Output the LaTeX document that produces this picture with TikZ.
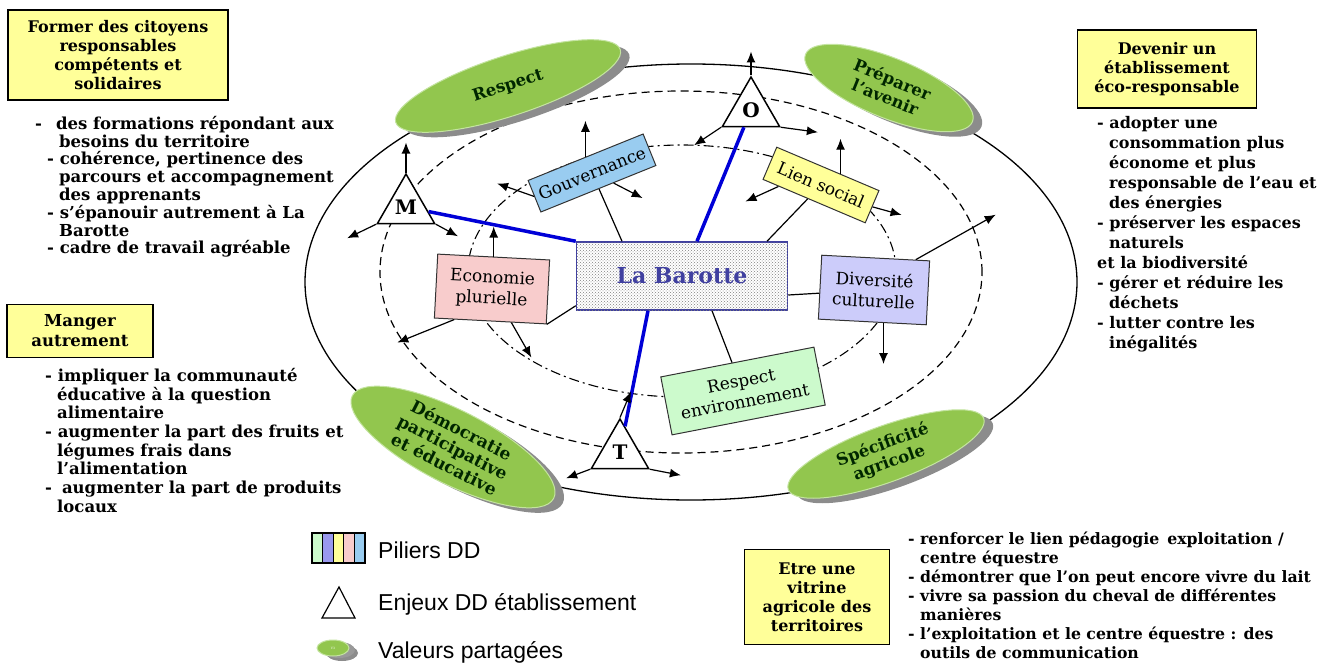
\documentclass[tikz,border=0pt]{standalone}
\usepackage{fontspec}
\setmainfont{DejaVu Serif}
\setsansfont{Liberation Sans}
\usetikzlibrary{shapes.geometric,arrows.meta,patterns,shadows}

\definecolor{vert}{RGB}{146,198,78}
\definecolor{vertbord}{RGB}{196,228,160}
\definecolor{jaune}{RGB}{255,255,153}
\definecolor{bleuciel}{RGB}{153,204,240}
\definecolor{rose}{RGB}{248,204,204}
\definecolor{lavande}{RGB}{204,204,250}
\definecolor{lavandefonce}{RGB}{153,153,238}
\definecolor{vertpale}{RGB}{204,250,204}
\definecolor{bleubar}{RGB}{64,64,160}
\definecolor{bleutrait}{RGB}{0,0,215}

\newcommand{\retrait}{\hspace*{12pt}}
\newcommand{\decal}{\hspace*{12pt}}

\tikzset{
	pilier/.style={draw=black!80,line width=1pt,align=center,inner sep=2pt,font=\fontsize{17}{21}\selectfont},
	valeur/.style={ellipse,fill=vert,draw=vertbord,line width=1pt,inner sep=0pt,align=center,
		text=black!85!green,font=\bfseries\fontsize{16.5}{19}\selectfont,
		drop shadow={shadow xshift=9pt,shadow yshift=-5pt,fill=black!45,opacity=1}},
	enjeu/.style={draw,regular polygon,regular polygon sides=3,minimum size=66pt,inner sep=0pt,
		line width=1.5pt,fill=white,font=\bfseries\fontsize{20}{20}\selectfont},
	titre/.style={draw,fill=jaune,line width=1.2pt,align=center,font=\bfseries\fontsize{16}{19}\selectfont},
	liste/.style={anchor=north west,align=left,inner sep=0pt},
	fleche/.style={-{Latex[length=11pt,width=9pt]},line width=1.2pt},
	lien/.style={line width=1.2pt},
	axe/.style={bleutrait,line width=3.5pt},
	legende/.style={anchor=west,inner sep=0pt,font=\sffamily\fontsize{23}{23}\selectfont}
}

\begin{document}
\begin{tikzpicture}[x=1pt,y=-1pt]
\useasboundingbox (0,0) rectangle (1326,669);

%ellipses
\draw[line width=1.3pt] (691,282) ellipse [x radius=386pt,y radius=218pt];
\draw[line width=1.2pt,dash pattern=on 8pt off 5pt] (681,272) ellipse [x radius=301pt,y radius=181pt];
\draw[line width=1.1pt,dash pattern=on 10pt off 4pt on 2pt off 4pt] (682,271) ellipse [x radius=214pt,y radius=126pt];

%valeurs
\node[valeur,rotate=18,minimum width=236pt,minimum height=60pt] (respect) at (508,86) {Respect};
\node[valeur,rotate=-22,minimum width=180pt,minimum height=60pt] (avenir) at (889,88) {Préparer\\l’avenir};
\node[valeur,rotate=-27,minimum width=226pt,minimum height=70pt,font=\bfseries\fontsize{17}{19}\selectfont] (demo) at (453,447) {Démocratie\\participative\\et éducative};
\node[valeur,rotate=20,minimum width=208pt,minimum height=56pt] (agri) at (886,454) {Spécificité\\agricole};

%centre
\node[draw=bleubar,line width=1.5pt,fill=white,postaction={pattern=crosshatch dots,pattern color=black!50},
	minimum width=211pt,minimum height=68pt,text=bleubar,font=\bfseries\fontsize{22}{22}\selectfont] (bar) at (682,276) {La Barotte};

%piliers
\node[pilier,fill=bleuciel,rotate=22,minimum width=124pt,minimum height=34pt] (gov) at (592,173) {Gouvernance};
\node[pilier,fill=jaune,rotate=-23,minimum width=111pt,minimum height=35pt] (lien) at (821,185) {Lien social};
\node[pilier,fill=rose,rotate=-3,minimum width=112pt,minimum height=64pt] (eco) at (492,289) {Economie\\plurielle};
\node[pilier,fill=lavande,rotate=-3,minimum width=108pt,minimum height=64pt] (div) at (874,290) {Diversité\\culturelle};
\node[pilier,fill=vertpale,rotate=11,minimum width=156pt,minimum height=59pt] (renv) at (743,391) {Respect\\environnement};

%enjeux
\node[enjeu] (M) at (406,207) {M};
\node[enjeu] (O) at (751,110) {O};
\node[enjeu] (T) at (620,452) {T};

%axes
\draw[axe] (M) -- (bar.north west);
\draw[axe] (O) -- ([xshift=15pt]bar.north);
\draw[axe] (T) -- ([xshift=-34pt]bar.south);

%liens
\draw[lien] (gov) -- ([xshift=-60pt]bar.north);
\draw[lien] (lien) -- ([xshift=85pt]bar.north);
\draw[lien] (eco.south east) -- ([yshift=5pt]bar.south west);
\draw[lien] ([yshift=-19pt]bar.east) -- (div);
\draw[lien] ([xshift=30pt]bar.south) -- (renv);

%fleches
\draw[fleche] (M.corner 1) -- ++(0,-30);
\draw[fleche] (M.corner 2) -- ++(-29,14);
\draw[fleche] (M.corner 3) -- ++(22,12);
\draw[fleche] (O.corner 1) -- ++(0,-24);
\draw[fleche] (O.corner 2) -- ++(-27,18);
\draw[fleche] (O.corner 3) -- ++(37,5);
\draw[fleche] (T.corner 1) -- ++(11,-26);
\draw[fleche] (T.corner 2) -- ++(-24,9);
\draw[fleche] (T.corner 3) -- ++(31,6);
\draw[fleche] (gov.north) -- ++(0,-36);
\draw[fleche] (gov.west) -- ++(-37,-13);
\draw[fleche] (gov.-47) -- ++(29,15);
\draw[fleche] (lien.53) -- ++(0,-35);
\draw[fleche] (lien.205) -- ++(-33,15);
\draw[fleche] (lien.east) -- ++(29,8);
\draw[fleche] (eco.north) -- ++(0,-30);
\draw[fleche] (eco.222) -- ++(-57,23);
\draw[fleche] (eco.-57) -- ++(20,35);
\draw[fleche] (div.39) -- ++(80,-45);
\draw[fleche] (div.-71) -- ++(0,41);

%objectifs
\node[titre,minimum width=220pt,minimum height=90pt] (former) at (118,55) {Former des citoyens\\responsables\\compétents et\\solidaires};
\node[titre,minimum width=146pt,minimum height=53pt,font=\bfseries\fontsize{16.5}{20}\selectfont] (manger) at (80,331) {Manger\\autrement};
\node[titre,minimum width=179pt,minimum height=78pt] (ecoresp) at (1167,69) {Devenir un\\établissement\\éco-responsable};
\node[titre,minimum width=145pt,minimum height=95pt] (vitrine) at (817,597) {Etre une\\vitrine\\agricole des\\territoires};

%actions
\node[liste,font=\bfseries\fontsize{16.5}{17.8}\selectfont] (lformer) at (35,116) {%
-\hspace*{14pt}des formations répondant aux\\
\decal\retrait besoins du territoire\\
\decal- cohérence, pertinence des\\
\decal\retrait parcours et accompagnement\\
\decal\retrait des apprenants\\
\decal- s'épanouir autrement à La\\
\decal\retrait Barotte\\
\decal- cadre de travail agréable};
\node[liste,font=\bfseries\fontsize{16.5}{18.7}\selectfont] (lmanger) at (45,368) {%
- impliquer la communauté\\
\retrait éducative à la question\\
\retrait alimentaire\\
- augmenter la part des fruits et\\
\retrait légumes frais dans\\
\retrait l'alimentation\\
-\hspace*{10pt}augmenter la part de produits\\
\retrait locaux};
\node[liste,font=\bfseries\fontsize{16}{20}\selectfont] (lecoresp) at (1097,116) {%
- adopter une\\
\retrait consommation plus\\
\retrait économe et plus\\
\retrait responsable de l'eau et\\
\retrait des énergies\\
- préserver les espaces\\
\retrait naturels\\
et la biodiversité\\
- gérer et réduire les\\
\retrait déchets\\
- lutter contre les\\
\retrait inégalités};
\node[liste,font=\bfseries\fontsize{15.7}{19}\selectfont] (lvitrine) at (908,532) {%
- renforcer le lien pédagogie\hspace{8pt}exploitation /\\
\retrait centre équestre\\
- démontrer que l'on peut encore vivre du lait\\
- vivre sa passion du cheval de différentes\\
\retrait manières\\
- l'exploitation et le centre équestre : des\\
\retrait outils de communication};

%legende
\foreach \c [count=\i from 0] in {vertpale,lavandefonce,jaune,rose,bleuciel}
	\draw[line width=1.3pt,fill=\c] (312+10.6*\i,533) rectangle ++(10.6,30);
\node[legende] (lpiliers) at (378,550) {Piliers DD};
\draw[line width=1.2pt] (322,618) -- (339,587) -- (355,618) -- cycle;
\node[legende] (lenjeux) at (378,604) {Enjeux DD établissement};
\node[valeur,minimum width=32pt,minimum height=16pt,font=\fontsize{3}{3}\selectfont,text=white,
	drop shadow={shadow xshift=6pt,shadow yshift=-2pt,fill=black!40,opacity=1}] (lvaleur) at (333,648) {V3};
\node[legende] (lvaleurs) at (378,652) {Valeurs partagées};

\end{tikzpicture}
\end{document}
